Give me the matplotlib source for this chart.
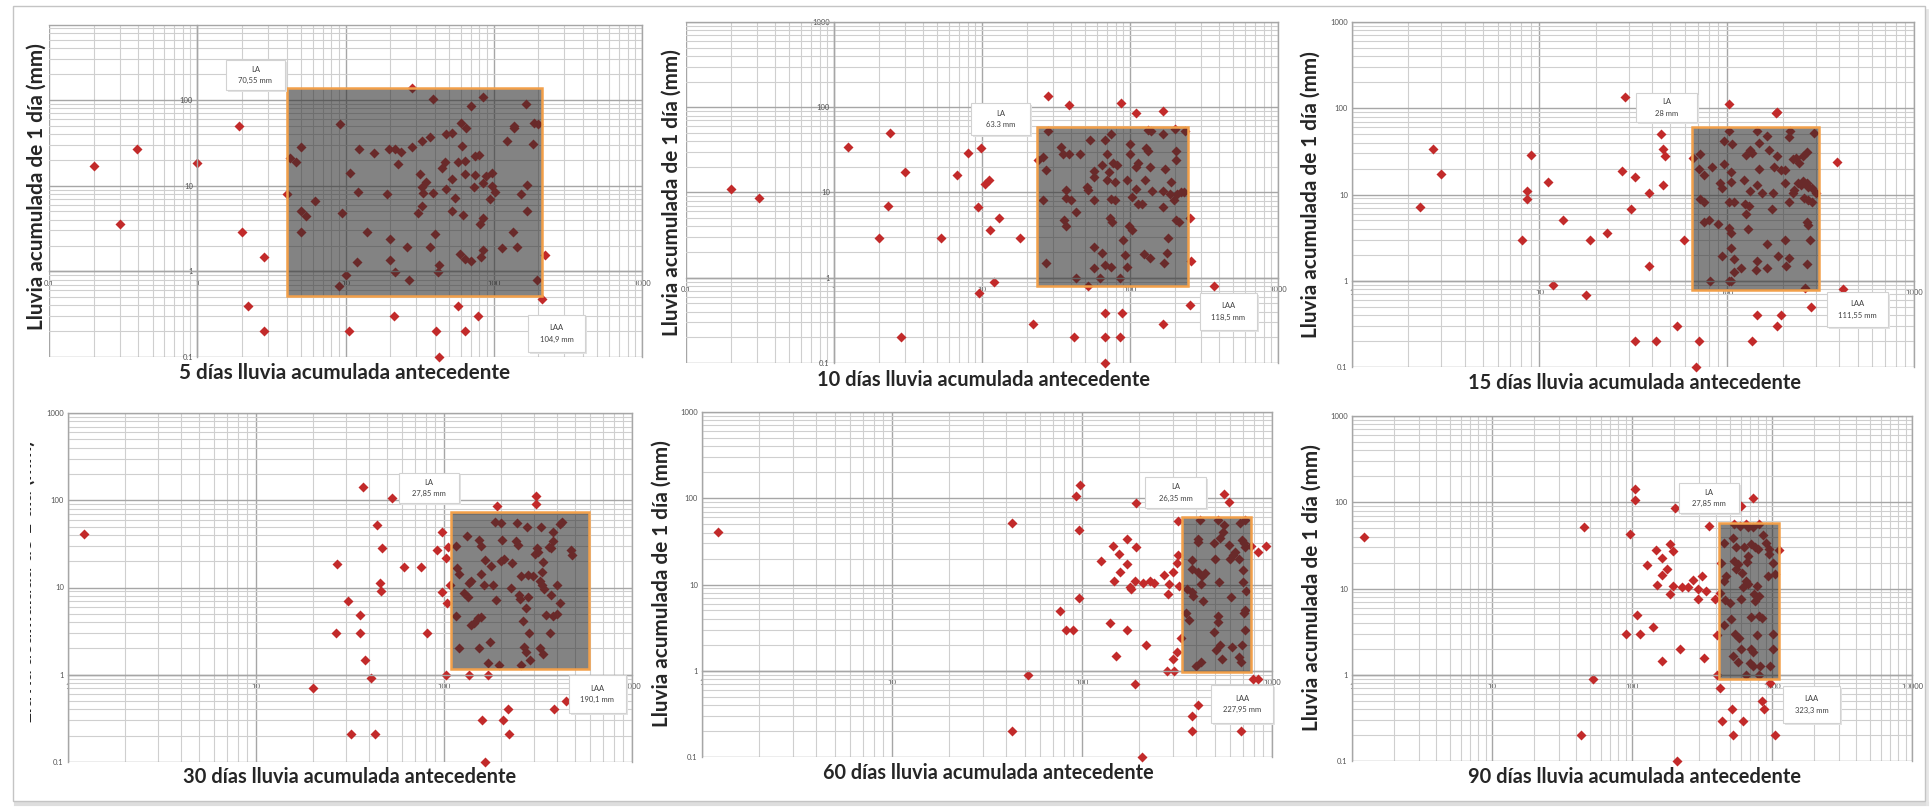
import numpy as np
import matplotlib
matplotlib.use("Agg")
import matplotlib.pyplot as plt
import matplotlib.ticker as mticker
from matplotlib.patches import Rectangle
from matplotlib.lines import Line2D

plt.rcParams['font.family'] = ['Lato', 'DejaVu Sans']

W, H = 1932, 811

# Data: (antecedent rain, 1-day rain) pairs
pts_5 = [(0.2, 17), (0.3, 3.6), (0.39, 27), (1.0, 18.5), (1.9, 50), (2.0, 2.9), (2.8, 1.45), (2.2, 0.39),
         (2.8, 0.2), (4.0, 7.9), (4.2, 21), (4.6, 19), (5.0, 28), (5.0, 5.0), (5.4, 4.4), (5.0, 2.9),
         (6.2, 6.6), (9.2, 53), (10.8, 14), (9.4, 4.8), (12.3, 27), (12.2, 8.4), (14, 2.9), (12, 1.3),
         (10, 0.9), (9, 0.67), (15.6, 24), (19.7, 27), (21.7, 27), (23.7, 25), (22.5, 17.7), (19, 7.9),
         (20, 2.4), (20, 1.37), (21.7, 0.98), (26, 1.9), (27, 0.8), (28, 28.5), (28, 137), (38.7, 104),
         (33, 33), (37, 37), (48, 40), (52, 41), (32, 13.7), (35, 11), (33, 9.7), (33.5, 8.1), (39, 8.1),
         (31, 4.8), (33, 5.8), (40, 2.7), (37, 1.9), (43, 1.19), (42, 0.97), (45, 16), (47, 19), (52, 12),
         (48, 9.1), (55, 7.2), (52, 5.0), (62, 4.5), (59, 1.6), (64, 1.38), (70, 1.32), (61, 29), (60, 54),
         (65, 47), (70, 85), (57, 19), (63.5, 19.6), (63.5, 13.7), (75, 13.3), (75, 22), (79, 22.6),
         (74, 9.7), (84, 107), (85, 10.6), (89, 13), (97, 14), (97, 10), (102, 8.5), (94, 6.9), (85, 4.2),
         (81, 3.6), (84, 1.78), (82, 1.45), (113, 1.85), (123, 33), (134, 2.9), (143, 1.9), (138, 50),
         (138, 47), (152, 7.9), (167, 10.2), (168, 5.0), (165, 89), (187, 54), (200, 52), (185, 31),
         (197, 0.8), (210, 0.48), (220, 1.55), (57, 0.39), (78, 0.3), (21.4, 0.3), (41, 0.2), (63.5, 0.2),
         (10.5, 0.2), (43, 0.1)]

pts_10 = [(0.2, 11), (0.31, 8.7), (1.24, 34), (2.4, 50), (3.0, 17.4), (2.3, 7.0), (2.0, 2.9), (5.3, 2.9),
          (2.85, 0.2), (6.8, 16), (8.0, 29), (9.8, 33), (10.4, 12.7), (11.2, 13.9), (9.4, 6.8), (13, 5.0),
          (11.4, 3.6), (18, 2.9), (12, 0.89), (9.5, 0.67), (22, 0.29), (28, 137), (39, 107), (87, 111),
          (109, 86), (168, 91), (42, 0.2), (68, 0.2), (86, 0.2), (68, 0.39), (88, 0.39), (168, 0.29),
          (68, 0.1), (256, 0.48), (370, 0.79), (256, 5.0), (260, 1.57), (52, 0.79), (24, 24), (26, 26),
          (27, 18.6), (26, 8.1), (28, 53), (27, 1.48), (34, 34), (35, 28.5), (39, 28), (46, 28), (37, 10.6),
          (37, 8.7), (40, 8.1), (43, 5.9), (36, 4.7), (37, 4.0), (43, 0.99), (54, 41), (57.5, 18),
          (57.5, 15), (51.5, 11.6), (52, 10.6), (57, 8.1), (57.5, 2.3), (57.5, 1.31), (63, 0.99),
          (65, 1.93), (67.5, 1.41), (74, 1.35), (65, 21), (70, 28.5), (67.5, 41), (74, 48), (72, 17.4),
          (70, 13.9), (79, 13.3), (77, 22), (82, 21), (74, 8.3), (79, 8.1), (73, 5.0), (76, 4.5),
          (85, 0.99), (90, 2.8), (93, 1.85), (95, 1.35), (100, 37), (100, 28), (96, 13.9), (103, 8.9),
          (99, 4.0), (103, 3.6), (109, 20), (113, 22), (109, 11), (113, 7.3), (120, 7.3), (124, 1.9),
          (132, 31), (128, 33), (126, 13.9), (137, 1.7), (137, 20), (139, 53), (132, 54), (141, 10.3),
          (166, 48), (166, 10.3), (168, 6.8), (173, 19), (185, 9.7), (188, 13.3), (182, 2.9), (177, 1.93),
          (171, 1.48), (204, 31), (204, 24), (197, 8.1), (207, 9.7), (221, 10.1), (233, 10.1), (205, 4.7),
          (214, 4.5), (201, 56), (236, 53)]

pts_15 = [(2.3, 7.1), (2.7, 34), (3.0, 17.4), (9.0, 29), (8.6, 11), (8.6, 8.8), (8.1, 3.0), (11.1, 14),
          (13.3, 5.0), (11.8, 0.9), (17.8, 0.68), (18.6, 3.0), (23, 3.6), (28.6, 136), (27.5, 18.7),
          (32.5, 16), (31, 6.8), (38.7, 10.5), (38.7, 1.49), (44.6, 50), (45.8, 34), (47, 28), (46, 12.9),
          (59, 3.0), (54, 0.3), (32.5, 0.2), (42, 0.2), (71, 0.2), (69, 0.1), (136, 0.2), (146, 0.4),
          (194, 0.4), (186, 0.3), (282, 0.49), (262, 0.83), (416, 0.81), (389, 23.6), (103, 112), (184, 87),
          (186, 91), (66, 26.7), (72, 29.5), (71, 20), (76, 17), (84, 21), (72, 8.8), (76, 8.2), (76, 4.8),
          (80, 5.0), (81, 1.0), (90, 4.5), (92, 13.7), (94, 12), (97, 42), (97, 22.5), (103, 54), (107, 38),
          (106, 18), (106, 14), (103, 8.2), (109, 8.2), (103, 4.1), (105, 3.6), (105, 2.4), (94, 1.93),
          (110, 1.8), (110, 1.25), (119, 1.39), (103, 1.0), (105, 1.0), (124, 14.7), (126, 7.7), (127, 5.9),
          (130, 4.0), (127, 28.7), (133, 33), (137, 30), (133, 11), (131, 7.4), (146, 54), (148, 40),
          (148, 19.6), (146, 12.9), (146, 1.69), (144, 1.33), (154, 10.5), (164, 1.4), (165, 48), (168, 33),
          (164, 2.7), (174, 6.8), (177, 10.5), (179, 21), (186, 28), (189, 1.93), (196, 19.2), (206, 19.2),
          (206, 13.7), (206, 3.0), (208, 1.49), (214, 1.85), (217, 54), (214, 47), (214, 8.1), (226, 10.5),
          (226, 26), (230, 11.2), (234, 26.7), (244, 23), (240, 13.7), (250, 12.9), (255, 14.3), (259, 9.2),
          (255, 28), (268, 31), (268, 13.7), (272, 12.3), (272, 8.6), (268, 4.8), (272, 4.4), (279, 3.0),
          (268, 1.58), (287, 12), (287, 8.2), (294, 52), (301, 10.5)]

pts_30 = [(1.22, 41), (20, 0.71), (27, 18.8), (26.7, 3.0), (31, 7.0), (32, 0.21), (35.6, 4.9), (35.6, 3.0),
          (37.8, 1.49), (37, 142), (41, 0.92), (43, 0.21), (44, 52), (47, 28.4), (45.6, 11.4), (46, 9.1),
          (52.6, 106), (61, 17.2), (75, 17.2), (81, 3.0), (92, 27), (97, 43), (97, 8.9), (103, 21.8),
          (105, 29), (104, 6.7), (103, 1.0), (108, 10.8), (136, 1.0), (171, 1.0), (159, 0.3), (165, 0.1),
          (207, 0.3), (218, 0.4), (223, 0.21), (387, 0.4), (444, 0.5), (192, 86), (307, 112), (307, 90),
          (474, 27), (479, 23.8), (116, 30), (133, 39), (117, 16.8), (120, 14.4), (116, 4.7), (120, 2.0),
          (139, 12), (136, 11.3), (128, 8.7), (134, 7.8), (139, 3.7), (144, 3.9), (153, 35), (157, 30),
          (157, 14.4), (151, 4.5), (157, 4.6), (153, 2.0), (163, 10.6), (165, 20.5), (178, 17.5),
          (182, 10.6), (175, 2.4), (171, 1.36), (187, 57), (189, 7.1), (202, 55), (204, 35), (202, 20),
          (209, 21), (197, 1.28), (226, 9.9), (230, 19), (245, 55), (241, 34), (247, 31), (258, 13.6),
          (250, 8.2), (254, 7.3), (263, 4.1), (267, 2.1), (258, 1.28), (274, 1.8), (274, 5.8), (278, 49),
          (281, 13.8), (288, 1.49), (281, 7.8), (284, 3.0), (296, 13.6), (303, 24), (311, 28), (316, 25.6),
          (327, 49), (336, 19.6), (331, 15), (324, 11.8), (332, 10.6), (339, 9.5), (324, 2.0), (336, 1.75),
          (371, 8.3), (350, 4.9), (381, 4.7), (401, 10.6), (397, 5.0), (368, 3.0), (381, 34), (371, 28),
          (381, 43), (362, 29), (416, 6.7), (416, 54), (422, 57)]

pts_60 = [(1.22, 41), (43, 52), (52, 0.9), (43, 0.2), (77, 4.9), (82, 3.0), (90, 3.0), (93, 107),
          (97.5, 143), (96, 43), (96, 7.0), (126, 18.8), (141, 3.6), (146, 28), (147, 11), (157, 22.6),
          (159, 14), (172, 34), (173, 17.2), (178, 9.3), (182, 8.8), (172, 3.0), (151, 1.47), (190, 11),
          (192, 27.5), (192, 87), (190, 0.71), (217, 2.0), (210, 10.5), (229, 11), (240, 10.4), (269, 13),
          (282, 7.8), (286, 10.2), (279, 1.0), (304, 1.0), (301, 13.8), (316, 17.7), (321, 22), (325, 9.5),
          (321, 55), (332, 2.4), (316, 1.63), (301, 1.36), (377, 0.3), (380, 0.2), (410, 0.4), (207, 0.1),
          (562, 112), (591, 91), (687, 0.2), (798, 0.81), (848, 0.81), (778, 28), (848, 23.7), (927, 28),
          (353, 4.7), (367, 3.9), (377, 19.3), (380, 15), (358, 8.8), (377, 8.1), (386, 7.3), (396, 1.14),
          (423, 1.28), (406, 34), (410, 31), (410, 13.8), (427, 12.6), (431, 6.5), (423, 10.1), (417, 56),
          (444, 13.5), (497, 30), (504, 20), (497, 2.8), (509, 1.72), (522, 56), (535, 35), (527, 10.8),
          (522, 4.3), (522, 3.7), (535, 2.0), (553, 41), (562, 49), (548, 1.38), (591, 29), (600, 20),
          (606, 7.1), (616, 1.9), (621, 22), (637, 24), (670, 20), (676, 51), (670, 1.43), (687, 1.28),
          (697, 2.0), (704, 10.8), (704, 14.8), (711, 30), (722, 27.5), (711, 4.7), (722, 5.0), (722, 3.0),
          (733, 8.3), (722, 56), (697, 33)]

pts_90 = [(1.21, 40), (45.5, 51), (52.5, 0.89), (43, 0.2), (105, 141), (105, 106), (97, 43), (90, 3.0),
          (114, 3.0), (108, 4.9), (128, 18.6), (141, 3.6), (149, 27.8), (163, 22.5), (177, 17), (163, 14.3),
          (150, 10.9), (187, 33), (196, 27), (187, 8.7), (197, 10.7), (203, 85), (165, 1.45), (210, 0.1),
          (221, 2.0), (229, 10.4), (250, 10.4), (271, 12.5), (295, 9.8), (295, 7.6), (317, 14), (340, 9.3),
          (328, 1.56), (356, 53), (394, 7.6), (403, 2.9), (403, 1.0), (422, 0.7), (517, 0.4), (443, 0.29),
          (622, 0.29), (525, 0.2), (601, 90), (727, 112), (849, 0.5), (873, 0.4), (967, 0.8), (1057, 0.2),
          (1130, 27.8), (452, 34), (431, 20), (468, 14), (452, 12.2), (422, 8.8), (461, 7.3), (500, 6.8),
          (452, 3.8), (507, 4.4), (528, 1.63), (528, 39), (554, 30), (535, 21), (573, 19), (554, 17),
          (613, 15.3), (605, 7.5), (581, 2.7), (573, 1.4), (605, 2.0), (593, 53), (535, 56), (656, 56),
          (679, 51), (727, 51), (805, 56), (634, 30), (703, 33), (751, 30), (794, 29), (679, 24),
          (665, 20.5), (647, 12.2), (679, 11.4), (741, 8.7), (778, 10.7), (805, 8.2), (751, 7.1), (712, 4.7),
          (805, 4.8), (849, 4.6), (778, 2.9), (703, 2.0), (727, 1.83), (693, 1.36), (727, 1.25), (816, 1.25),
          (805, 1.0), (647, 1.0), (861, 42), (910, 34), (953, 29), (953, 25), (935, 14), (1020, 20),
          (1042, 14.6), (1020, 3.0), (1020, 2.0), (973, 1.25), (543, 3.0), (622, 10.3)]

days = [5, 10, 15, 30, 60, 90]
la_text = ["70,55 mm", "63.3 mm", "28 mm", "27,85 mm", "26,35 mm", "27,85 mm"]
laa_text = ["104,9 mm", "118,5 mm", "111,55 mm", "190,1 mm", "227,95 mm", "323,3 mm"]

# gray threshold boxes (x range, y range) in data units
box_x = [(4.0, 213), (23.7, 248), (65, 310), (109, 593), (336, 771), (416, 1115)]
box_y = [(0.51, 137), (0.79, 59.4), (0.78, 60), (1.17, 73.5), (0.96, 60.3), (0.89, 57.4)]

xlims = [(0.1, 1000), (0.1, 1000), (1, 1000), (1, 1000), (1, 1000), (1, 10000)]
ylims = [(0.1, 750), (0.1, 1000), (0.1, 1000), (0.1, 1000), (0.1, 1000), (0.1, 1000)]

# layout (pixels in the 1932x811 canvas)
axes_px = [(49, 25, 642, 357), (686, 22, 1278, 363), (1352, 22, 1914, 367),
           (68, 413, 632, 762), (702, 412, 1272, 757), (1352, 416, 1912, 761)]
title_px = [(345, 373), (984, 380), (1635, 383), (350, 777), (988, 773), (1634, 777)]
ylab_px = [(37, 187), (672, 193), (1311, 195), (36, 582), (662, 584), (1312, 588)]
la_px = [(226, 60, 285, 90), (971, 103, 1030, 135), (1636, 93, 1697, 122),
         (399, 473, 459, 503), (1145, 477, 1206, 508), (1679, 483, 1739, 513)]
laa_px = [(528, 315, 585, 352), (1200, 293, 1257, 330), (1827, 292, 1888, 327),
          (569, 675, 626, 713), (1211, 685, 1273, 723), (1783, 686, 1840, 723)]

panels = [pts_5, pts_10, pts_15, pts_30, pts_60, pts_90]
ylabel = "Lluvia acumulada de 1 día (mm)"
pt_color = '#c22a2a'


def px_rect(x0, y0, x1, y1):
    return [x0 / W, 1 - y1 / H, (x1 - x0) / W, (y1 - y0) / H]


def fit(t, target, vertical=False):
    # scale font so the text spans the wanted number of pixels
    r = fig.canvas.get_renderer()
    bb = t.get_window_extent(renderer=r)
    size = bb.height if vertical else bb.width
    t.set_fontsize(t.get_fontsize() * target / size)


fig = plt.figure(figsize=(W / 100, H / 100), dpi=100)
fig.patch.set_facecolor('white')

fmt = mticker.FuncFormatter(lambda v, p: f"{v:g}")

for i in range(6):
    ax = fig.add_axes(px_rect(*axes_px[i]))
    ax.set_xscale('log')
    ax.set_yscale('log')
    ax.set_xlim(*xlims[i])
    ax.set_ylim(*ylims[i])
    for axis in (ax.xaxis, ax.yaxis):
        axis.set_major_locator(mticker.LogLocator(base=10, numticks=12))
        axis.set_minor_locator(mticker.LogLocator(base=10, subs=np.arange(2, 10), numticks=12))
        axis.set_major_formatter(fmt)
        axis.set_minor_formatter(mticker.NullFormatter())
    ax.set_axisbelow(True)
    ax.grid(which='major', color='#a6a6a6', lw=1.0)
    ax.grid(which='minor', color='#cfcfcf', lw=0.8)

    # Excel style: axes cross at 1
    ax.spines['left'].set_position(('data', 1))
    ax.spines['bottom'].set_position(('data', 1))
    for s in ax.spines.values():
        s.set_color('#a6a6a6')
        s.set_linewidth(1.0)
    ax.tick_params(which='both', length=0, labelsize=5.5, labelcolor='#555555')
    ax.tick_params(axis='x', pad=6)
    ax.tick_params(axis='y', pad=3)

    xs, ys = zip(*panels[i])
    ax.plot(xs, ys, 'D', ms=5, color=pt_color, mec='none', zorder=2, clip_on=False)

    (bx0, bx1), (by0, by1) = box_x[i], box_y[i]
    ax.add_patch(Rectangle((bx0, by0), bx1 - bx0, by1 - by0, facecolor='#2a2a2a',
                           alpha=0.58, lw=0, zorder=3))
    ax.add_patch(Rectangle((bx0, by0), bx1 - bx0, by1 - by0, fill=False,
                           edgecolor='#f2a04a', lw=1.8, zorder=4))

    # x title under each panel
    tx, ty = title_px[i]
    t = fig.text(tx / W, 1 - ty / H, f"{days[i]} días lluvia acumulada antecedente",
                 ha='center', va='center', fontsize=14, fontweight='bold', color='#262626')
    fit(t, 334)

    lx, ly = ylab_px[i]
    if i == 3:
        # this label is cut off in the screenshot: only its baseline edge shows
        yl = fig.text(lx / W, 1 - ly / H, ylabel, rotation=90, ha='right', va='center',
                      fontsize=14, fontweight='bold', color='#262626', zorder=1)
        fit(yl, 285, vertical=True)
        fig.add_artist(Rectangle((14 / W, 1 - 760 / H), 16 / W, 340 / H, facecolor='white',
                                 lw=0, zorder=2, transform=fig.transFigure))
    else:
        yl = fig.text(lx / W, 1 - ly / H, ylabel, rotation=90, ha='center', va='center',
                      fontsize=14, fontweight='bold', color='#262626')
        fit(yl, 290, vertical=True)

    for box, txt in ((la_px[i], "LA\n" + la_text[i]), (laa_px[i], "LAA\n" + laa_text[i])):
        x0, y0, x1, y1 = box
        fig.add_artist(Rectangle(((x0 + 2) / W, 1 - (y1 + 2) / H), (x1 - x0) / W, (y1 - y0) / H,
                                 facecolor='#e2e2e2', lw=0, transform=fig.transFigure))
        fig.add_artist(Rectangle((x0 / W, 1 - y1 / H), (x1 - x0) / W, (y1 - y0) / H,
                                 facecolor='white', edgecolor='#d2d2d2', lw=0.8,
                                 transform=fig.transFigure))
        fig.text((x0 + x1) / 2 / W, 1 - (y0 + y1) / 2 / H, txt, ha='center', va='center',
                 fontsize=5.5, color='#404040', linespacing=1.7)

# outer card frame with a soft shadow
fig.add_artist(Line2D([16 / W, 1927 / W], [1 - 804 / H, 1 - 804 / H], color='#dedede', lw=3, zorder=5))
fig.add_artist(Line2D([1927 / W, 1927 / W], [1 - 10 / H, 1 - 804 / H], color='#e6e6e6', lw=2, zorder=5))
fig.add_artist(Rectangle((13 / W, 1 - 801 / H), (1925 - 13) / W, (801 - 6) / H, fill=False,
                         edgecolor='#c4c4c4', lw=1, zorder=5, transform=fig.transFigure))

fig.savefig("out.png", dpi=100, facecolor='white')
